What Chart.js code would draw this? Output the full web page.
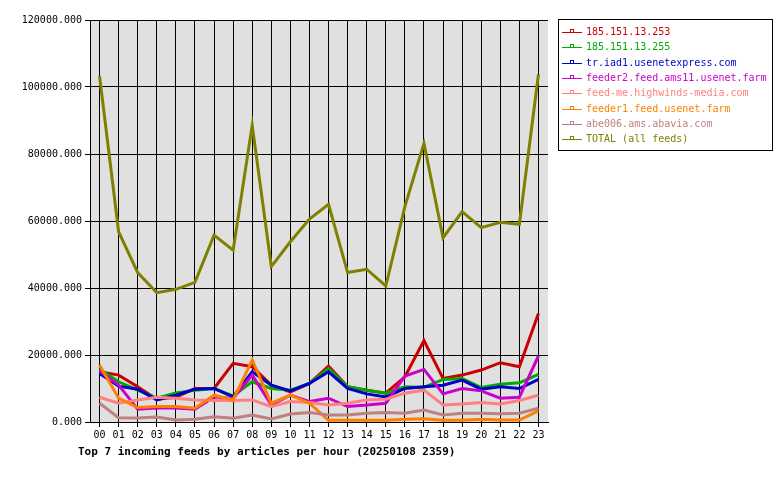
<!DOCTYPE html>
<html>
<head>
<meta charset="utf-8">
<script src="https://cdn.jsdelivr.net/npm/chart.js@4"></script>
<style>
  body { margin: 0; background: #fff; }
  #wrap { width: 780px; height: 480px; }
</style>
</head>
<body>
<div id="wrap"><canvas id="feedChart" width="780" height="480"></canvas></div>
<script>
// hours of the day
const hours = ["00","01","02","03","04","05","06","07","08","09","10","11",
               "12","13","14","15","16","17","18","19","20","21","22","23"];

// articles per hour, per feed
const feed253   = [15000,14000,10500,6800,7400,10000,10000,17500,16500,11000,9000,11500,
                   16700,10500,9500,8600,13500,24300,13000,14000,15500,17700,16500,32400];
const feed255   = [15800,12000,9500,7100,8700,9500,10000,7800,12000,10000,9500,11500,
                   16000,10500,9500,8600,10500,10300,12700,13000,10300,11300,11700,14200];
const iad1      = [14500,10700,9800,6600,8000,9800,10000,7500,15000,11000,9300,11500,
                   15000,10000,8400,7500,10000,10500,11000,12500,9800,10500,10000,12700];
const ams11     = [15200,11000,3800,4200,4200,3800,7500,7000,14000,5100,8000,6100,
                   7100,4600,5100,5600,13700,15700,8400,10000,9300,7100,7400,19700];
const highwinds = [7400,5600,6600,7400,7100,6600,6400,6400,6600,4600,6100,5800,
                   5100,5600,6600,6800,8600,9500,5100,5400,5800,5400,6400,8000];
const feeder1   = [17000,7100,4300,4600,4600,4100,8000,6600,18500,5600,8000,5600,
                   500,500,500,500,800,1000,500,500,800,600,600,3300];
const abavia    = [5600,1300,1200,1500,600,800,1600,1100,2100,900,2400,2800,
                   2100,2100,2600,2800,2600,3600,2100,2600,2600,2500,2600,4100];
const totalAll  = [103300,56800,44600,38600,39600,41700,55800,51300,88600,46400,53800,60600,
                   65000,44600,45600,40600,64300,83200,55000,62800,58000,59600,59000,103800];

const yTicks = [0, 20000, 40000, 60000, 80000, 100000, 120000];

const feedNames = ["185.151.13.253", "185.151.13.255", "tr.iad1.usenetexpress.com",
                   "feeder2.feed.ams11.usenet.farm", "feed-me.highwinds-media.com",
                   "feeder1.feed.usenet.farm", "abe006.ams.abavia.com", "TOTAL (all feeds)"];
const feedColors = ["#cc0000", "#00aa00", "#0000cc", "#cc00cc",
                    "#ff8080", "#ff8000", "#c08080", "#808000"];
const feedData = [feed253, feed255, iad1, ams11, highwinds, feeder1, abavia, totalAll];

const titleText = "Top 7 incoming feeds by articles per hour (20250108 2359)";
const mono = "'DejaVu Sans Mono', monospace";

// grijs vlak + legenda + titel
const decorPlugin = {
    id: "decor",
    beforeDraw(chart) {
        const a = chart.chartArea;
        const c = chart.ctx;
        c.save();
        c.fillStyle = "#e0e0e0";
        c.fillRect(a.left, a.top, a.right - a.left, a.bottom - a.top);
        c.restore();
    },
    afterDraw(chart) {
        const c = chart.ctx;
        c.save();
        // legend box
        c.strokeStyle = "#000";
        c.lineWidth = 1;
        c.strokeRect(558.5, 19.5, 214, 131);
        c.font = "10px " + mono;
        c.textBaseline = "middle";
        chart.data.datasets.forEach((ds, i) => {
            const y = Math.round(32 + i * 15.3) + 0.5;
            c.strokeStyle = ds.borderColor;
            c.beginPath();
            c.moveTo(562, y);
            c.lineTo(582, y);
            c.stroke();
            c.strokeRect(570.5, y - 3, 3, 3);
            c.fillStyle = ds.borderColor;
            c.fillText(ds.label, 586, y);
        });
        // title below the chart
        c.fillStyle = "#000";
        c.font = "bold 11px " + mono;
        c.textBaseline = "middle";
        c.fillText(titleText, 78, 452);
        c.restore();
    }
};

const ctx = document.getElementById("feedChart").getContext("2d");

new Chart(ctx, {
    type: "line",
    data: {
        labels: hours,
        datasets: feedData.map((vals, i) => ({
            label: feedNames[i],
            data: vals,
            borderColor: feedColors[i],
            backgroundColor: feedColors[i],
            borderWidth: 3,
            pointRadius: 0,
            tension: 0,
            fill: false,
            order: -i   // later feeds on top
        }))
    },
    options: {
        responsive: false,
        animation: false,
        devicePixelRatio: 1,
        layout: { padding: { left: 0, right: 232, top: 20, bottom: 0 } },
        plugins: {
            legend: { display: false },
            tooltip: { enabled: false }
        },
        scales: {
            x: {
                offset: true,
                grid: { color: "#000", lineWidth: 1, tickLength: 5, offset: false },
                border: { color: "#000", width: 1 },
                ticks: { color: "#000", font: { family: mono, size: 10 }, padding: 2,
                         maxRotation: 0, autoSkip: false },
                afterFit(scale) { scale.height = 58; }
            },
            y: {
                min: 0,
                max: 120000,
                afterBuildTicks(scale) { scale.ticks = yTicks.map(v => ({ value: v })); },
                grid: { color: "#000", lineWidth: 1, tickLength: 5 },
                border: { color: "#000", width: 1 },
                ticks: { color: "#000", font: { family: mono, size: 10 }, padding: 3,
                         callback: v => v.toFixed(3) },
                afterFit(scale) { scale.width = 90; }
            }
        }
    },
    plugins: [decorPlugin]
});
</script>
</body>
</html>
